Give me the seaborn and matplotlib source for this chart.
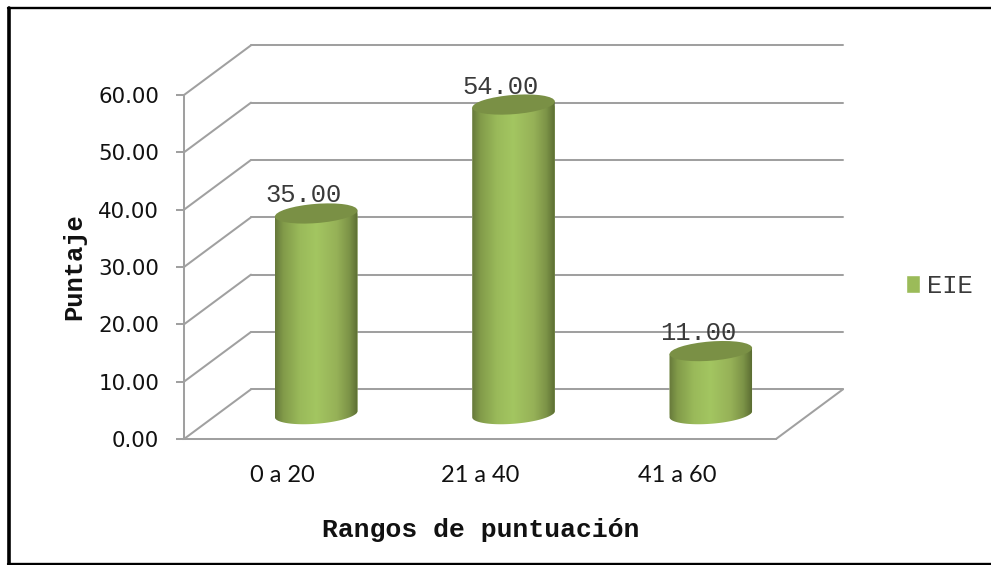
import numpy as np
import pandas as pd
import matplotlib
matplotlib.use("Agg")
import matplotlib.pyplot as plt
import seaborn as sns
from matplotlib.colors import LinearSegmentedColormap
from matplotlib.lines import Line2D
from matplotlib.patches import ConnectionPatch, Ellipse
from matplotlib.path import Path
from matplotlib.transforms import IdentityTransform

categories = ["0 a 20", "21 a 40", "41 a 60"]
values = [35.0, 54.0, 11.0]
y_ticks = [0, 10, 20, 30, 40, 50, 60]
series_name = "EIE"
x_title = "Rangos de puntuación"
y_title = "Puntaje"

W, H = 991, 565
GRAY = "#A0A0A0"
LW = 1.45
MONO = "Liberation Mono"

sns.set_theme(style="white")
plt.rcParams["font.family"] = ["DejaVu Sans"]


def rect(l, t, r, b):
    return [l / W, 1 - b / H, (r - l) / W, (b - t) / H]


FL, FR, FT, FB = 184, 776, 95, 439   # front plane
DX, DY = 67, -49.7                   # depth of the floor
PX = (FB - FT) / 60

fig = plt.figure(figsize=(W / 100, H / 100), dpi=100, facecolor="white")

# back wall: horizontal grid only
back = fig.add_axes(rect(FL + DX, FT + DY, FR + DX, FB + DY), zorder=0)
back.set_xlim(-0.5, 2.5)
back.set_ylim(0, 60)
back.set_yticks(y_ticks)
back.set_xticks([])
back.tick_params(left=False, labelleft=False)
back.grid(axis="y", color=GRAY, lw=LW)
back.patch.set_alpha(0)
back.set_clip_on(False)
for s in back.spines.values():
    s.set_visible(False)
for gl in back.get_ygridlines():
    gl.set_clip_on(False)

# front plane: axis lines, ticks and labels
front = fig.add_axes(rect(FL, FT, FR, FB), zorder=1)
front.patch.set_alpha(0)
front.set_xlim(-0.5, 2.5)
front.set_ylim(0, 60)
front.set_yticks(y_ticks)
front.set_yticklabels([f"{v:.2f}" for v in y_ticks], fontsize=15.4, color="#111111")
front.set_xticks(range(len(categories)))
front.set_xticklabels(categories, fontfamily="Lato", fontsize=17, color="#111111")
front.tick_params(axis="y", length=5.8, width=LW, color=GRAY, pad=12, left=True)
front.tick_params(axis="x", length=0, pad=19)
for name, s in front.spines.items():
    s.set_visible(name in ("left", "bottom"))
    s.set_color(GRAY)
    s.set_linewidth(LW)
front.set_xlabel(x_title, fontfamily=MONO, fontweight="bold", fontsize=19, color="#111111")
front.xaxis.set_label_coords((481 - FL) / (FR - FL), (FB - 530) / (FB - FT), transform=front.transAxes)
front.xaxis.label.set_verticalalignment("center")
front.set_ylabel(y_title, fontfamily=MONO, fontweight="bold", fontsize=18.4, color="#111111")
front.yaxis.set_label_coords((74 - FL) / (FR - FL), 0.5, transform=front.transAxes)
front.yaxis.label.set_verticalalignment("center")

# depth lines joining the front plane to the back wall
for v in y_ticks:
    fig.add_artist(ConnectionPatch((-0.5, v), (-0.5, v), "data", "data", axesA=front, axesB=back,
                                   color=GRAY, lw=LW, zorder=0.5))
fig.add_artist(ConnectionPatch((2.5, 0), (2.5, 0), "data", "data", axesA=front, axesB=back,
                               color=GRAY, lw=LW, zorder=0.5))

# bars: plane half-way into the floor
YMIN = -3
bars = fig.add_axes(rect(FL + DX / 2, FT + DY / 2, FR + DX / 2, FB + DY / 2 - YMIN * PX), zorder=2)
bars.patch.set_alpha(0)
df = pd.DataFrame({"rango": categories, "valor": values})
sns.barplot(data=df, x="rango", y="valor", ax=bars, color="#9BBB59", width=0.42,
            saturation=1, label=series_name, legend=False)
bars.set_xlim(-0.5, 2.5)
bars.set_ylim(YMIN, 60)
bars.set_xlabel("")
bars.set_ylabel("")
bars.set_xticks([])
bars.set_yticks([])
for s in bars.spines.values():
    s.set_visible(False)

shade = LinearSegmentedColormap.from_list(
    "cyl",
    [(0.00, "#66793A"), (0.10, "#829B4A"), (0.30, "#9ABA5A"), (0.50, "#A3C661"),
     (0.75, "#96B157"), (0.90, "#7C9347"), (1.00, "#5C6E33")],
)
fig.canvas.draw()
A = 41.4
B = 9.6
ANGLE = 4.5


def ellipse_xy(cx, cy, t):
    th = np.deg2rad(ANGLE)
    x = A * np.cos(t) * np.cos(th) - B * np.sin(t) * np.sin(th)
    y = A * np.cos(t) * np.sin(th) + B * np.sin(t) * np.cos(th)
    return cx + x, cy + y


for bar, v in zip(list(bars.patches), values):
    x0, w = bar.get_x(), bar.get_width()
    xc = x0 + w / 2
    tcx, tcy = bars.transData.transform((xc, v))
    bcx, bcy = bars.transData.transform((xc, 0))
    t = np.linspace(0, 2 * np.pi, 361)
    ex, ey = ellipse_xy(0, 0, t)
    il, ir = int(np.argmin(ex)), int(np.argmax(ex))
    # lower arc of the base from left extreme to right extreme
    idx = np.arange(il, ir + 1) if il < ir else np.r_[il:361, 0:ir + 1]
    lx, ly = bcx + ex[idx], bcy + ey[idx]
    poly = np.vstack([np.c_[lx, ly],
                      [tcx + ex[ir], tcy + ey[ir]],
                      [tcx + ex[il], tcy + ey[il]],
                      [lx[0], ly[0]]])
    sil = Path(poly, closed=True)
    bar.set_clip_path(sil, IdentityTransform())
    im = bars.imshow(np.linspace(0, 1, 128)[None, :], cmap=shade, aspect="auto",
                     extent=[x0, x0 + w, YMIN, v + 2], zorder=3, interpolation="bilinear")
    im.set_clip_path(sil, IdentityTransform())
    bars.add_patch(Ellipse((tcx, tcy), 2 * A, 2 * B, angle=ANGLE, facecolor="#7A9045",
                           edgecolor="none", transform=IdentityTransform(), zorder=4, clip_on=False))
    bars.annotate(f"{v:.2f}", (xc, v), xytext=(-13 * 0.72, 18 * 0.72), textcoords="offset points",
                  ha="center", va="center", fontfamily=MONO, fontsize=18.4, color="#3A3A3A", zorder=5)
bars.set_xlim(-0.5, 2.5)
bars.set_ylim(YMIN, 60)

leg = bars.legend(loc="center left", bbox_to_anchor=(906 / W, 1 - 286 / H),
                  bbox_transform=fig.transFigure, frameon=False, borderpad=0, borderaxespad=0,
                  handlelength=0.55, handleheight=0.72, handletextpad=0.27,
                  prop={"family": MONO, "size": 18.4})
for txt in leg.get_texts():
    txt.set_color("#3A3A3A")

# outer frame: open on the right, as in the reference
frame = [((9, 8), (9, 564), 2.6), ((8, 8.2), (991, 8.2), 1.7), ((8, 564), (991, 564), 1.7)]
for (x1, y1), (x2, y2), lw in frame:
    fig.add_artist(Line2D([x1 / W, x2 / W], [1 - y1 / H, 1 - y2 / H], color="black", lw=lw,
                          transform=fig.transFigure, zorder=6))

fig.savefig("out.png", dpi=100, facecolor="white")
